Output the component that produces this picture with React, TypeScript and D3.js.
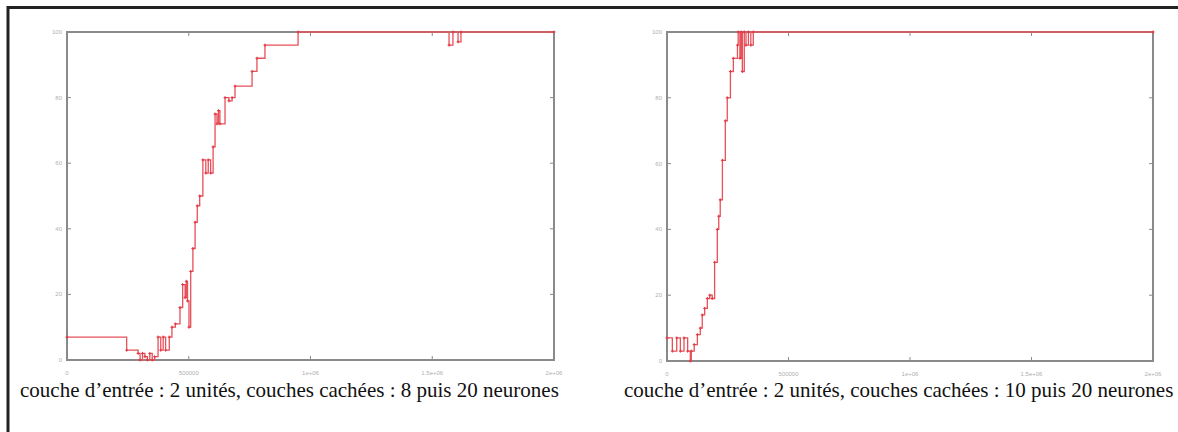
import React from "react";
import * as d3 from "d3";

const leftX = [0, 245000, 292000, 300000, 310000, 320000, 330000, 340000, 350000, 360000, 374000, 385000, 395000, 405000, 420000, 431000, 445000, 464000, 475000, 485000, 490000, 495000, 501000, 508000, 517000, 526000, 535000, 545000, 558000, 570000, 580000, 590000, 600000, 608000, 616000, 622000, 628000, 649000, 665000, 678000, 690000, 760000, 780000, 813000, 949000, 1569000, 1585000, 1606000, 1618000, 2000000];
const leftY = [7, 3, 2, 0, 2, 1, 0, 2, 0, 1, 7, 3, 7, 3, 7, 10, 11, 16, 23, 19, 24, 18, 10, 27, 34, 42, 47, 50, 61, 57, 61, 57, 65, 75, 72, 76, 72, 80, 79, 80, 83.5, 88, 92, 96, 100, 96, 100, 97, 100, 100];

const rightX = [0, 22000, 40000, 55000, 70000, 85000, 96000, 100000, 112000, 125000, 137000, 145000, 155000, 166000, 176000, 186000, 196000, 207000, 213000, 219000, 228000, 240000, 248000, 261000, 273000, 290000, 293000, 300000, 305000, 310000, 318000, 325000, 335000, 345000, 355000, 2000000];
const rightY = [7, 3, 7, 3, 7, 3, 0, 3, 5, 8, 10, 14, 16, 19, 20, 19, 30, 40, 44, 49, 61, 73, 80, 88, 92, 96, 100, 92, 100, 88, 100, 96, 100, 96, 100, 100];

const xTicks = [0, 500000, 1000000, 1500000, 2000000];
const xTickLabels = ["0", "500000", "1e+06", "1.5e+06", "2e+06"];
const yTicks = [0, 20, 40, 60, 80, 100];

const captions = [
  "couche d\u2019entrée : 2 unités, couches cachées : 8 puis 20 neurones",
  "couche d\u2019entrée : 2 unités, couches cachées : 10 puis 20 neurones",
];

type PanelProps = { xs: number[]; ys: number[]; left: number; right: number; top: number; bottom: number };

function Panel({ xs, ys, left, right, top, bottom }: PanelProps) {
  const x = d3.scaleLinear().domain([0, 2000000]).range([left, right]);
  const y = d3.scaleLinear().domain([0, 100]).range([bottom, top]);
  const pts: [number, number][] = xs.map((v, i) => [v, ys[i]]);
  const line = d3
    .line<[number, number]>()
    .x((d) => x(d[0]))
    .y((d) => y(d[1]))
    .curve(d3.curveStepAfter);
  const axisColor = "#8a8a8a";
  const labelColor = "#b0b0b0";
  const tl = 4;
  return (
    <g>
      {xTicks.map((t, i) => (
        <g key={"x" + i}>
          <line x1={x(t)} x2={x(t)} y1={bottom} y2={bottom - tl} stroke={axisColor} strokeWidth={1} />
          <line x1={x(t)} x2={x(t)} y1={top} y2={top + tl} stroke={axisColor} strokeWidth={1} />
          <text x={x(t)} y={bottom + 15} fontSize={6} fill={labelColor} textAnchor="middle" fontFamily="Liberation Sans, sans-serif">
            {xTickLabels[i]}
          </text>
        </g>
      ))}
      {yTicks.map((t, i) => (
        <g key={"y" + i}>
          <line x1={left} x2={left + tl} y1={y(t)} y2={y(t)} stroke={axisColor} strokeWidth={1} />
          <line x1={right} x2={right - tl} y1={y(t)} y2={y(t)} stroke={axisColor} strokeWidth={1} />
          <text x={left - 5} y={y(t) + 2} fontSize={6} fill={labelColor} textAnchor="end" fontFamily="Liberation Sans, sans-serif">
            {t}
          </text>
        </g>
      ))}
      <rect x={left} y={top} width={right - left} height={bottom - top} fill="none" stroke={axisColor} strokeWidth={2} />
      <path d={line(pts) || ""} fill="none" stroke="#e8505a" strokeWidth={1.3} />
      {pts.map((d, i) => (
        <g key={"p" + i} stroke="#e23a45" strokeWidth={1}>
          <line x1={x(d[0]) - 1.5} x2={x(d[0]) + 1.5} y1={y(d[1])} y2={y(d[1])} />
          <line x1={x(d[0])} x2={x(d[0])} y1={y(d[1]) - 1.5} y2={y(d[1]) + 1.5} />
        </g>
      ))}
    </g>
  );
}

export default function App() {
  return (
    <svg
      width={1178}
      height={432}
      style={{ position: "absolute", left: 0, top: 0, background: "#fff" }}
    >
      <rect x={0} y={0} width={1178} height={432} fill="#fff" />
      <line x1={8} x2={1178} y1={7.5} y2={7.5} stroke="#222" strokeWidth={3} />
      <line x1={8} x2={8} y1={6} y2={432} stroke="#222" strokeWidth={3} />
      <Panel xs={leftX} ys={leftY} left={67} right={554} top={32} bottom={360} />
      <Panel xs={rightX} ys={rightY} left={667} right={1153} top={32} bottom={361} />
      <text x={20} y={397} fontSize={21} fontFamily="Liberation Serif, Times New Roman, serif" fill="#111">
        {captions[0]}
      </text>
      <text x={624} y={397} fontSize={21} fontFamily="Liberation Serif, Times New Roman, serif" fill="#111">
        {captions[1]}
      </text>
    </svg>
  );
}
